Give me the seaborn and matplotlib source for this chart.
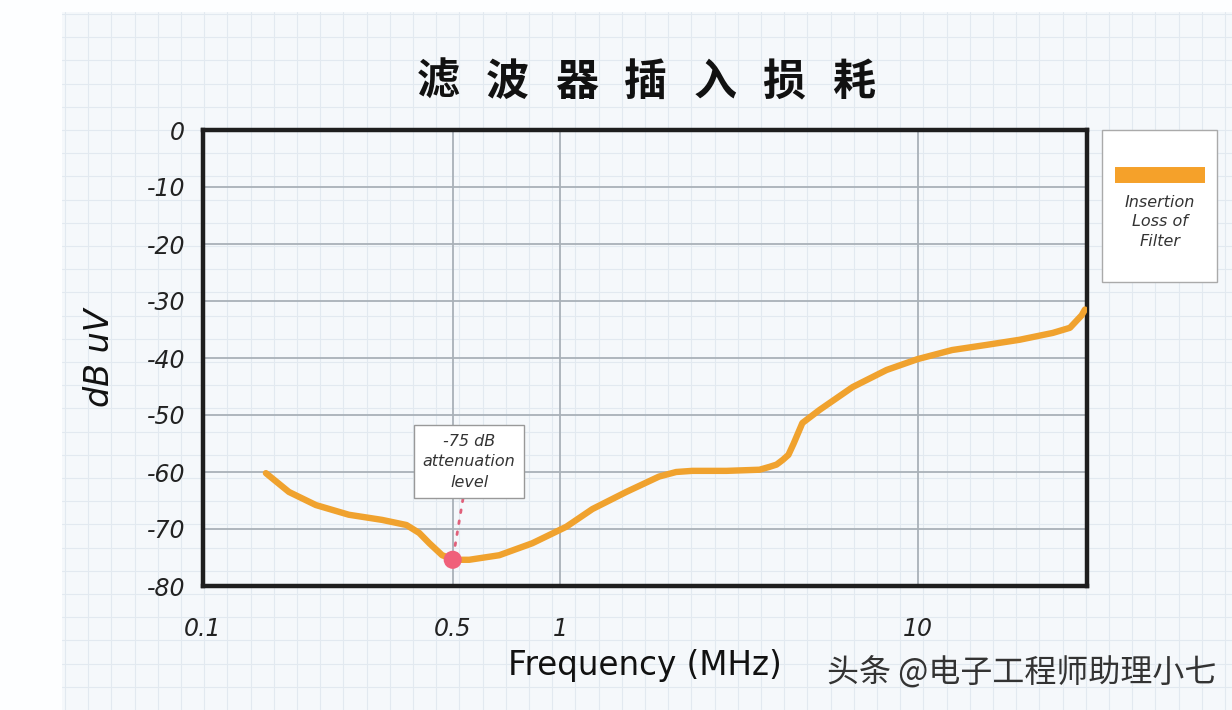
import numpy as np
import pandas as pd
import matplotlib
matplotlib.use("Agg")
import matplotlib.pyplot as plt
import seaborn as sns
from matplotlib.patches import Rectangle
from matplotlib.lines import Line2D

# ---------------- data ----------------
freq_mhz = [0.150, 0.174, 0.207, 0.256, 0.317, 0.371, 0.403, 0.430, 0.467, 0.505,
            0.556, 0.675, 0.835, 1.04, 1.23, 1.53, 1.89, 2.11, 2.34, 2.92,
            3.61, 3.85, 4.03, 4.19, 4.35, 4.50, 4.76, 5.32, 6.58, 8.19,
            10.0, 12.5, 15.6, 19.3, 23.9, 26.7, 28.8, 29.4]
loss_db = [-60.2, -63.5, -65.8, -67.5, -68.4, -69.3, -70.7, -72.5, -74.6, -75.4,
           -75.4, -74.6, -72.5, -69.6, -66.5, -63.5, -60.8, -60.0, -59.8, -59.8,
           -59.6, -59.1, -58.7, -57.9, -57.0, -55.0, -51.4, -49.1, -45.1, -42.1,
           -40.2, -38.6, -37.7, -36.8, -35.6, -34.7, -32.5, -31.5]
marker_freq = [0.5]
marker_db = [-75.4]
x_ticks = [0.1, 0.5, 1, 10]
x_tick_labels = ["0.1", "0.5", "1", "10"]
y_ticks = [0, -10, -20, -30, -40, -50, -60, -70, -80]
y_tick_labels = ["0", "-10", "-20", "-30", "-40", "-50", "-60", "-70", "-80"]
title_chars = ["滤", "波", "器", "插", "入", "损", "耗"]
series_name = "Insertion\nLoss of\nFilter"
annot_text = "-75 dB\nattenuation\nlevel"
watermark = "头条 @电子工程师助理小七"

df = pd.DataFrame({"freq": freq_mhz, "loss": loss_db})

sns.set_theme(style="white")
plt.rcParams["font.family"] = ["DejaVu Sans", "Noto Sans CJK SC"]
CJK = ["Noto Sans CJK SC", "DejaVu Sans"]

W, H = 1232, 710
fig = plt.figure(figsize=(W / 100, H / 100), dpi=100)
fig.patch.set_facecolor("#fdfeff")

# graph-paper background
bg = fig.add_axes([0, 0, 1, 1], zorder=-5)
bg.set_xlim(0, W)
bg.set_ylim(H, 0)
bg.axis("off")
bg.add_patch(Rectangle((62, 12), W - 62, H - 12, facecolor="#f5f8fb", edgecolor="none"))
for gx in np.arange(65, W, 23.2):
    bg.plot([gx, gx], [12, H], color="#e2e9f0", lw=0.8)
for gy in np.arange(14, H, 23.2):
    bg.plot([62, W], [gy, gy], color="#e2e9f0", lw=0.8)

# main axes
ax = fig.add_axes([203 / W, 1 - 586 / H, (1087 - 203) / W, (586 - 130) / H])
ax.set_facecolor("none")
ax.set_xscale("log")
ax.set_xlim(0.1, 29.8)
ax.set_ylim(-80, 0)

for yv in y_ticks[1:-1]:
    ax.axhline(yv, color="#a9b1b8", lw=1.3, zorder=1)
for xv in [0.5, 1, 10]:
    ax.axvline(xv, color="#a9b1b8", lw=1.3, zorder=1)

sns.lineplot(data=df, x="freq", y="loss", ax=ax, color="#f0a22e", lw=4.6,
             solid_capstyle="round", solid_joinstyle="round", zorder=3, legend=False)
ax.scatter(marker_freq, marker_db, s=170, color="#f0607a", zorder=5, edgecolors="none")

ax.set_xticks(x_ticks)
ax.set_xticklabels(x_tick_labels)
ax.xaxis.set_minor_locator(matplotlib.ticker.NullLocator())
ax.set_yticks(y_ticks)
ax.set_yticklabels(y_tick_labels)
ax.tick_params(axis="both", length=0, labelsize=17, colors="#222222")
ax.tick_params(axis="x", pad=22)
ax.tick_params(axis="y", pad=13)
for lab in ax.get_xticklabels() + ax.get_yticklabels():
    lab.set_fontstyle("italic")

for s in ax.spines.values():
    s.set_visible(True)
    s.set_color("#1e1e1e")
    s.set_linewidth(3.2)

ax.set_xlabel("Frequency (MHz)", fontsize=23.5, labelpad=6, color="#111111")
ax.set_ylabel("dB uV", fontsize=24, labelpad=22, color="#111111", fontstyle="italic")
ax.grid(False)

# annotation
ax.annotate(annot_text, xy=(marker_freq[0], marker_db[0]), xytext=(0.556, -58.2),
            ha="center", va="center", fontsize=11.5, fontstyle="italic", color="#333333",
            linespacing=1.45,
            bbox=dict(boxstyle="square,pad=0.55", facecolor="white", edgecolor="#999999", lw=1),
            arrowprops=dict(arrowstyle="-", linestyle=(0, (1, 3)), color="#e0607a", lw=2,
                            shrinkA=0, shrinkB=9))

# title (characters spaced out)
for i, ch in enumerate(title_chars):
    fig.text((438 + i * 69.2) / W, 1 - 82 / H, ch, ha="center", va="center", fontsize=31,
             fontweight="bold", family=CJK, color="#111111")

# legend box
lx0, ly0, lx1, ly1 = 1102, 130, 1217, 282
fig.add_artist(Rectangle((lx0 / W, 1 - ly1 / H), (lx1 - lx0) / W, (ly1 - ly0) / H,
                         transform=fig.transFigure, facecolor="white", edgecolor="#aaaaaa", lw=1))
fig.add_artist(Line2D([1115 / W, 1205 / W], [1 - 175 / H, 1 - 175 / H],
                      transform=fig.transFigure, color="#f5a12a", lw=11.5, solid_capstyle="butt"))
fig.text(1160 / W, 1 - 222 / H, series_name, ha="center", va="center", fontsize=11.5,
         fontstyle="italic", color="#333333", linespacing=1.4)

# watermark
fig.text(1022 / W, 1 - 672 / H, watermark, ha="center", va="center", fontsize=23,
         family=CJK, color="#333333")

fig.savefig("out.png", dpi=100)
